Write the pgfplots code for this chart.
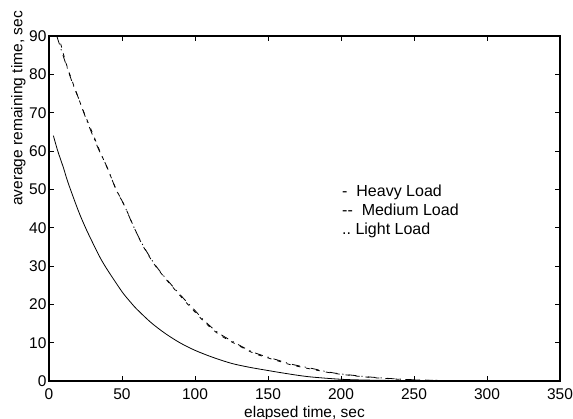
\documentclass[border=0pt]{standalone}
\usepackage{fontspec}
\setmainfont{Liberation Sans}
\usepackage{pgfplots}
\pgfplotsset{compat=1.18}
\begin{document}
\begin{tikzpicture}
\path[use as bounding box] (-49bp,-38bp) rectangle (524bp,381bp);
\begin{axis}[
  at={(0,0)}, anchor=south west,
  scale only axis, width=511bp, height=345bp,
  xmin=0, xmax=350, ymin=0, ymax=90,
  xtick={0,50,...,350}, ytick={0,10,...,90},
  tick align=inside, major tick length=5bp,
  axis line style={line width=1.3bp},
  every tick/.style={black, line width=0.8bp},
  /pgf/number format/assume math mode=true,
  tick label style={font=\fontsize{15.5bp}{18bp}\selectfont},
  xticklabel style={yshift=-4bp},
  yticklabel style={xshift=1bp},
  label style={font=\fontsize{15.5bp}{18bp}\selectfont},
  xlabel={elapsed time, sec},
  xlabel style={at={(axis description cs:0.5,0)}, anchor=base, yshift=-36bp},
  ylabel={average remaining time, sec},
  ylabel style={at={(axis description cs:-0.0519,0.79)}, anchor=base},
  clip=true,
]
% Heavy load (solid)
\addplot[black, line width=0.8bp, smooth] coordinates {
(3,64) (6,60) (10,55.5) (13,51.8) (20,44.5) (25,40) (30,36) (35,32.2) (40,29)
(50,23.3) (56,20.5) (60,18.8) (70,15.2) (80,12.3) (90,9.9) (100,8.0) (112,6.2)
(125,4.6) (137,3.6) (149,2.8) (160,2.1) (172,1.4) (181,1.0) (200,0.45) (220,0.22)
(250,0.08) (280,0.02)
};
% Medium load (dash-dot)
\addplot[black, line width=0.8bp, smooth, dash pattern=on 8bp off 5bp on 1.2bp off 5bp] coordinates {
(5.5,89.8) (10,84.5) (16,77.8) (20,74) (25.5,68.3) (30,64) (34.5,60) (39.5,56)
(46.4,49.5) (51,46.3) (57.7,40.5) (63.5,36) (71.4,31) (79.5,27) (92,21.6) (99,18.8)
(107,15.5) (117,12.3) (133,8.8) (142,7.2) (158,5.3) (167,4.3) (181,3.2) (195,2.1)
(218,1.1) (240,0.5) (260,0.2) (283,0.05)
};
% Light load (dashed)
\addplot[black, line width=0.8bp, smooth, dash pattern=on 4bp off 6bp] coordinates {
(8,88) (12,82.5) (18,76) (24,70) (30,64.5) (35,59.8) (40,55.5) (46,50) (52,45.5)
(58,40.3) (64,35.5) (72,30.5) (80,26.6) (92,21.3) (99,18.4) (107,15.2) (117,12)
(133,8.6) (142,7) (158,5.1) (167,4.1) (181,3.0) (195,2.0) (218,1.0) (240,0.45)
(260,0.2) (285,0.05)
};
\node[anchor=base west, inner sep=0, font=\fontsize{16bp}{19bp}\selectfont] at (axis cs:200.7,48.1) {-\ \ Heavy Load};
\node[anchor=base west, inner sep=0, font=\fontsize{16bp}{19bp}\selectfont] at (axis cs:200.7,43.1) {-{}-\ \ Medium Load};
\node[anchor=base west, inner sep=0, font=\fontsize{16bp}{19bp}\selectfont] at (axis cs:200.7,38.1) {..\ Light Load};
\end{axis}
\end{tikzpicture}
\end{document}
